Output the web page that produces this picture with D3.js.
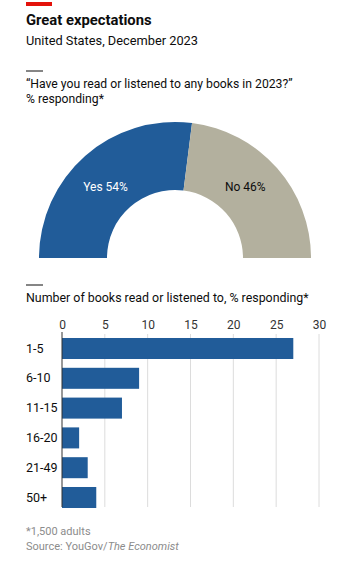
<!DOCTYPE html>
<html><head><meta charset="utf-8">
<script src="https://cdn.jsdelivr.net/npm/d3@7"></script>
<style>body{margin:0;background:#fff}svg{display:block;font-family:Roboto,"Noto Sans",sans-serif}</style>
</head><body>
<script>
const donutLabels = ["Yes", "No"];
const donutValues = [54, 46];
const categories = ["1-5", "6-10", "11-15", "16-20", "21-49", "50+"];
const barValues = [27, 9, 7, 2, 3, 4];
const xTicks = [0, 5, 10, 15, 20, 25, 30];

const W = 350, H = 562;
const FF = "Roboto, sans-serif";
const svg = d3.select("body").append("svg").attr("width", W).attr("height", H);
const blue = "#215c99", grey = "#b3b09e";

svg.append("rect").attr("x", 26).attr("y", 2).attr("width", 26).attr("height", 4).attr("fill", "#e3120b");
svg.append("text").attr("x", 26).attr("y", 25).attr("font-size", 14.8).attr("font-weight", 700).attr("fill", "#0d0d0d").text("Great expectations");
svg.append("text").attr("x", 26).attr("y", 45).attr("font-size", 12.8).attr("fill", "#0d0d0d").text("United States, December 2023");

svg.append("line").attr("x1", 26).attr("x2", 43).attr("y1", 71).attr("y2", 71).attr("stroke", "#0d0d0d").attr("stroke-width", 1);
svg.append("text").attr("x", 26).attr("y", 88).attr("font-size", 12.2).attr("fill", "#0d0d0d").text("\u201CHave you read or listened to any books in 2023?\u201D");
svg.append("text").attr("x", 26).attr("y", 103).attr("font-size", 12.2).attr("fill", "#0d0d0d").text("% responding*");

// donut
const cx = 175, cy = 258, R = 136, r = 68;
const pie = d3.pie().sort(null).startAngle(-Math.PI / 2).endAngle(Math.PI / 2);
const arcs = pie(donutValues);
const arc = d3.arc().innerRadius(r).outerRadius(R);
const g = svg.append("g").attr("transform", `translate(${cx},${cy})`);
g.selectAll("path").data(arcs).join("path").attr("d", arc).attr("fill", (d, i) => i === 0 ? blue : grey);
g.selectAll("text").data(arcs).join("text")
  .attr("x", d => arc.centroid(d)[0] * 0.97 - 4)
  .attr("y", -67)
  .attr("text-anchor", "middle")
  .attr("font-size", 12)
  .attr("fill", (d, i) => i === 0 ? "#fff" : "#0d0d0d")
  .text((d, i) => `${donutLabels[i]} ${donutValues[i]}%`);

// bar chart
svg.append("line").attr("x1", 26).attr("x2", 43).attr("y1", 285).attr("y2", 285).attr("stroke", "#0d0d0d").attr("stroke-width", 1);
svg.append("text").attr("x", 26).attr("y", 302).attr("font-size", 12.4).attr("fill", "#0d0d0d").text("Number of books read or listened to, % responding*");

const x = d3.scaleLinear().domain([0, 30]).range([62, 319]);
const y = d3.scaleBand().domain(categories).range([333.6, 512.4]).paddingInner(0.295).paddingOuter(0.1475);

const gridTop = 334, gridBottom = 507;
svg.append("g").selectAll("line").data(xTicks.filter(t => t > 0)).join("line")
  .attr("x1", d => x(d)).attr("x2", d => x(d)).attr("y1", gridTop).attr("y2", gridBottom)
  .attr("stroke", "#dcdcdc").attr("stroke-width", 1);

const xAxis = svg.append("g").attr("transform", `translate(0,${gridTop})`)
  .call(d3.axisTop(x).tickValues(xTicks).tickSize(0).tickPadding(5));
xAxis.select(".domain").remove();
xAxis.selectAll("text").attr("font-size", 12).attr("font-family", FF).attr("fill", "#333");

svg.append("g").selectAll("rect").data(categories).join("rect")
  .attr("x", x(0)).attr("y", d => y(d))
  .attr("width", (d, i) => x(barValues[i]) - x(0))
  .attr("height", y.bandwidth()).attr("fill", blue);

svg.append("line").attr("x1", x(0)).attr("x2", x(0)).attr("y1", gridTop - 2).attr("y2", gridBottom).attr("stroke", "#333").attr("stroke-width", 1);

const yAxis = svg.append("g").attr("transform", "translate(26,0)")
  .call(d3.axisLeft(y).tickSize(0).tickPadding(0));
yAxis.select(".domain").remove();
yAxis.selectAll("text").attr("text-anchor", "start").attr("font-size", 12.5).attr("font-family", FF).attr("fill", "#0d0d0d");

svg.append("text").attr("x", 26).attr("y", 535).attr("font-size", 11).attr("fill", "#8c8c8c").text("*1,500 adults");
const src = svg.append("text").attr("x", 26).attr("y", 550).attr("font-size", 11).attr("fill", "#8c8c8c");
src.append("tspan").text("Source: YouGov/");
src.append("tspan").attr("font-style", "italic").text("The Economist");
</script>
</body></html>
